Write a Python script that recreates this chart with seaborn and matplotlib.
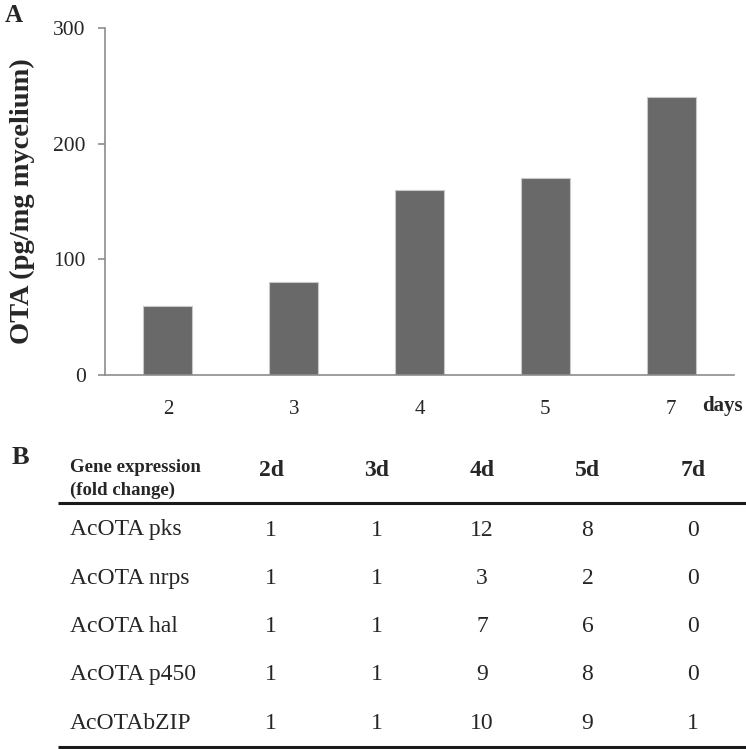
import numpy as np
import pandas as pd
import matplotlib.pyplot as plt
import seaborn as sns

# data
days = ["2", "3", "4", "5", "7"]
ota = [60, 80, 160, 170, 240]

genes = ["AcOTA pks", "AcOTA nrps", "AcOTA hal", "AcOTA p450", "AcOTAbZIP"]
col_labels = ["2d", "3d", "4d", "5d", "7d"]
fold_change = [
    [1, 1, 12, 8, 0],
    [1, 1, 3, 2, 0],
    [1, 1, 7, 6, 0],
    [1, 1, 9, 8, 0],
    [1, 1, 10, 9, 1],
]

df = pd.DataFrame({"day": days, "ota": ota})

sns.set_style("white")
plt.rcParams['font.family'] = ['Liberation Serif', 'DejaVu Serif']

bar_color = "#696969"
axis_color = "#8c8c8c"

W, H = 746, 749
fig = plt.figure(figsize=(W / 100, H / 100), dpi=100)

# panel A
ax1 = fig.add_axes([105 / W, 1 - 375 / H, (734 - 105) / W, (375 - 28) / H])
sns.barplot(data=df, x="day", y="ota", ax=ax1, color=bar_color, saturation=1,
            width=0.39, edgecolor="#c8c8c8", linewidth=0.8)
ax1.set_xlim(-0.5, len(days) - 0.5)
ax1.set_ylim(0, 300)
ax1.set_yticks([0, 100, 200, 300])
ax1.set_xlabel("")
ax1.set_ylabel("OTA (pg/mg mycelium)", fontsize=20.5, fontweight="bold", labelpad=13)
for s in ["top", "right"]:
    ax1.spines[s].set_visible(False)
for s in ["left", "bottom"]:
    ax1.spines[s].set_color(axis_color)
    ax1.spines[s].set_linewidth(1.2)
ax1.set_xticks(np.arange(-0.5, len(days), 1.0), minor=True)
ax1.tick_params(axis="x", which="major", length=0, pad=18, labelsize=15)
ax1.tick_params(axis="x", which="minor", length=5, width=1.2, color=axis_color, direction="out")
ax1.tick_params(axis="y", length=5, width=1.2, color=axis_color, direction="out", pad=9, labelsize=15.5)
ax1.tick_params(left=True, bottom=True)

fig.text(5 / W, 1 - 15 / H, "A", fontsize=18, fontweight="bold", ha="left", va="center")
fig.text(702 / W, 1 - 406 / H, "days", fontsize=15, fontweight="bold", ha="left", va="center")

# panel B (table drawn in pixel coordinates)
ax2 = fig.add_axes([0, 0, 1, 1])
ax2.set_xlim(0, W)
ax2.set_ylim(H, 0)
ax2.axis("off")

col_x0, col_dx = 271, 105.5
row_y0, row_dy = 530, 48.3

ax2.text(12, 458, "B", fontsize=19, fontweight="bold", ha="left", va="center")
ax2.text(70, 468, "Gene expression", fontsize=13.5, fontweight="bold", ha="left", va="center")
ax2.text(70, 490, "(fold change)", fontsize=13.5, fontweight="bold", ha="left", va="center")
for j, lab in enumerate(col_labels):
    ax2.text(col_x0 + j * col_dx, 471, lab, fontsize=17, fontweight="bold", ha="center", va="center")

ax2.hlines(503, 58, 746, color="#1a1a1a", linewidth=2.2)
ax2.hlines(747, 58, 746, color="#1a1a1a", linewidth=2.2)

for i, g in enumerate(genes):
    y = row_y0 + i * row_dy
    ax2.text(70, y, g, fontsize=17, ha="left", va="center")
    for j, v in enumerate(fold_change[i]):
        ax2.text(col_x0 + j * col_dx, y, str(v), fontsize=17, ha="center", va="center")

plt.savefig("out.png", dpi=100)
